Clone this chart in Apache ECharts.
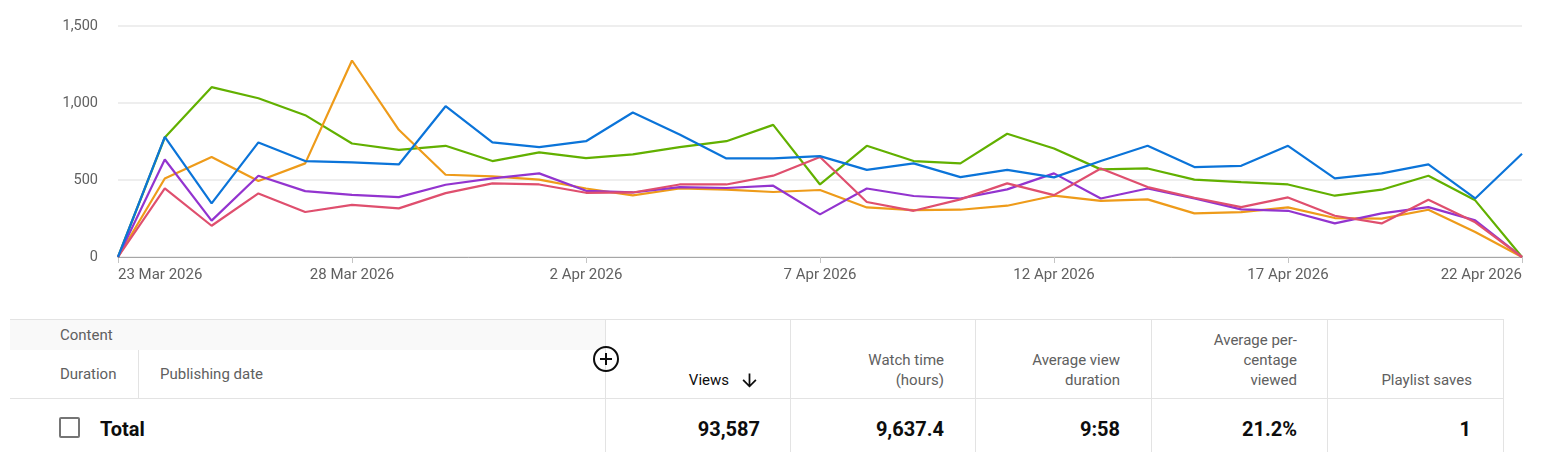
<!DOCTYPE html>
<html>
<head>
<meta charset="utf-8">
<script src="https://cdn.jsdelivr.net/npm/echarts@6/dist/echarts.min.js"></script>
<style>
  html, body { margin:0; padding:0; background:#fff; width:1543px; height:452px; overflow:hidden; font-family: Roboto, "Noto Sans", sans-serif; }
  #chart { position:absolute; left:0; top:0; width:1543px; height:300px; }
  .abs { position:absolute; white-space:nowrap; }
  .hd { font-size:15px; line-height:20px; color:#606060; }
  .hr { text-align:right; }
  .val { font-size:20px; line-height:24px; font-weight:700; color:#0d0d0d; text-align:right; }
  .hl { position:absolute; height:1px; background:#e3e3e3; }
  .vl { position:absolute; width:1px; background:#e3e3e3; }
</style>
</head>
<body>
<div id="chart"></div>

<!-- table -->
<div class="abs" style="left:10px; top:320px; width:595px; height:30px; background:#f9f9f9;"></div>
<div class="hl" style="left:10px; top:319px; width:1494px;"></div>
<div class="hl" style="left:10px; top:398px; width:1494px;"></div>
<div class="vl" style="left:138px; top:350px; height:48px;"></div>
<div class="vl" style="left:605px; top:320px; height:132px;"></div>
<div class="vl" style="left:790px; top:320px; height:132px;"></div>
<div class="vl" style="left:975px; top:320px; height:132px;"></div>
<div class="vl" style="left:1151px; top:320px; height:132px;"></div>
<div class="vl" style="left:1327px; top:320px; height:132px;"></div>
<div class="vl" style="left:1503px; top:320px; height:132px;"></div>

<div class="abs hd" style="left:60px; top:325px;">Content</div>
<div class="abs hd" style="left:60px; top:364px;">Duration</div>
<div class="abs hd" style="left:160px; top:364px;">Publishing date</div>

<svg class="abs" style="left:592px; top:345px;" width="28" height="28" viewBox="0 0 28 28">
  <circle cx="14" cy="14" r="12" fill="none" stroke="#0d0d0d" stroke-width="2"/>
  <line x1="8" y1="14" x2="20" y2="14" stroke="#0d0d0d" stroke-width="2"/>
  <line x1="14" y1="8" x2="14" y2="20" stroke="#0d0d0d" stroke-width="2"/>
</svg>

<div class="abs hd" style="right:814px; top:370px; color:#0d0d0d;">Views</div>
<svg class="abs" style="left:739px; top:370px;" width="21" height="21" viewBox="0 0 24 24">
  <path d="M20 12l-1.41-1.41L13 16.17V4h-2v12.17l-5.58-5.59L4 12l8 8 8-8z" fill="#0d0d0d"/>
</svg>

<div class="abs hd hr" style="right:599px; top:350px;">Watch time<br>(hours)</div>
<div class="abs hd hr" style="right:423px; top:350px;">Average view<br>duration</div>
<div class="abs hd hr" style="right:246px; top:330px;">Average per-<br>centage<br>viewed</div>
<div class="abs hd hr" style="right:71px; top:370px;">Playlist saves</div>

<div class="abs" style="left:59px; top:417px; width:17px; height:17px; border:2px solid #757575; border-radius:2px;"></div>
<div class="abs val" style="left:100px; top:417px; text-align:left;">Total</div>
<div class="abs val" style="right:783px; top:417px;">93,587</div>
<div class="abs val" style="right:599px; top:417px;">9,637.4</div>
<div class="abs val" style="right:423px; top:417px;">9:58</div>
<div class="abs val" style="right:246px; top:417px;">21.2%</div>
<div class="abs val" style="right:72px; top:417px;">1</div>

<script>
const categories = [
  "23 Mar 2026","24 Mar 2026","25 Mar 2026","26 Mar 2026","27 Mar 2026","28 Mar 2026",
  "29 Mar 2026","30 Mar 2026","31 Mar 2026","1 Apr 2026","2 Apr 2026","3 Apr 2026",
  "4 Apr 2026","5 Apr 2026","6 Apr 2026","7 Apr 2026","8 Apr 2026","9 Apr 2026",
  "10 Apr 2026","11 Apr 2026","12 Apr 2026","13 Apr 2026","14 Apr 2026","15 Apr 2026",
  "16 Apr 2026","17 Apr 2026","18 Apr 2026","19 Apr 2026","20 Apr 2026","21 Apr 2026","22 Apr 2026"
];
const greenSeries  = [0,776,1103,1031,921,737,696,722,623,679,642,666,713,752,858,471,722,623,608,800,705,569,575,502,486,471,398,437,528,368,0];
const orangeSeries = [0,510,649,493,608,1276,826,534,523,502,445,400,445,437,422,435,322,305,307,333,398,365,374,283,292,322,253,249,307,162,0];
const purpleSeries = [0,633,236,528,428,404,389,469,510,543,430,419,454,448,463,277,445,396,380,439,543,380,445,380,309,300,218,283,324,238,0];
const redSeries    = [0,445,203,413,292,339,316,415,478,471,417,419,471,471,528,649,357,300,374,478,402,575,454,385,324,387,268,218,372,225,0];
const blueSeries   = [0,780,348,744,623,614,601,979,744,713,752,938,795,640,640,655,566,608,519,566,517,623,722,584,592,722,510,543,601,380,670];
const yTicks = [0, 500, 1000, 1500];

const chart = echarts.init(document.getElementById('chart'), null, { renderer: 'canvas' });
function line(data, color) {
  return { type: 'line', data: data, showSymbol: false, symbol: 'none',
           lineStyle: { color: color, width: 2.2 }, itemStyle: { color: color } };
}
chart.setOption({
  animation: false,
  grid: { left: 118, right: 21, top: 26, bottom: 43, containLabel: false },
  xAxis: {
    type: 'category', data: categories, boundaryGap: false,
    axisLine: { lineStyle: { color: '#a6a6a6', width: 1 } },
    axisTick: { show: true, interval: 4, length: 6, lineStyle: { color: '#c4c4c4' } },
    axisLabel: { interval: 4, color: '#606060', fontSize: 15, fontFamily: 'Roboto', margin: 11,
                 alignMinLabel: 'left', alignMaxLabel: 'right' },
    splitLine: { show: false }
  },
  yAxis: {
    type: 'value', min: yTicks[0], max: yTicks[yTicks.length - 1], interval: 500,
    axisLine: { show: false }, axisTick: { show: false },
    axisLabel: { color: '#606060', fontSize: 14.5, fontFamily: 'Roboto', margin: 20,
                 formatter: v => v.toLocaleString('en-US') },
    splitLine: { lineStyle: { color: '#e8e8e8', width: 1.5 } }
  },
  series: [
    line(greenSeries, '#62b000'),
    line(orangeSeries, '#ee9b1a'),
    line(purpleSeries, '#9334cf'),
    line(redSeries, '#df4f6e'),
    line(blueSeries, '#0b74d9')
  ]
});
</script>
</body>
</html>
